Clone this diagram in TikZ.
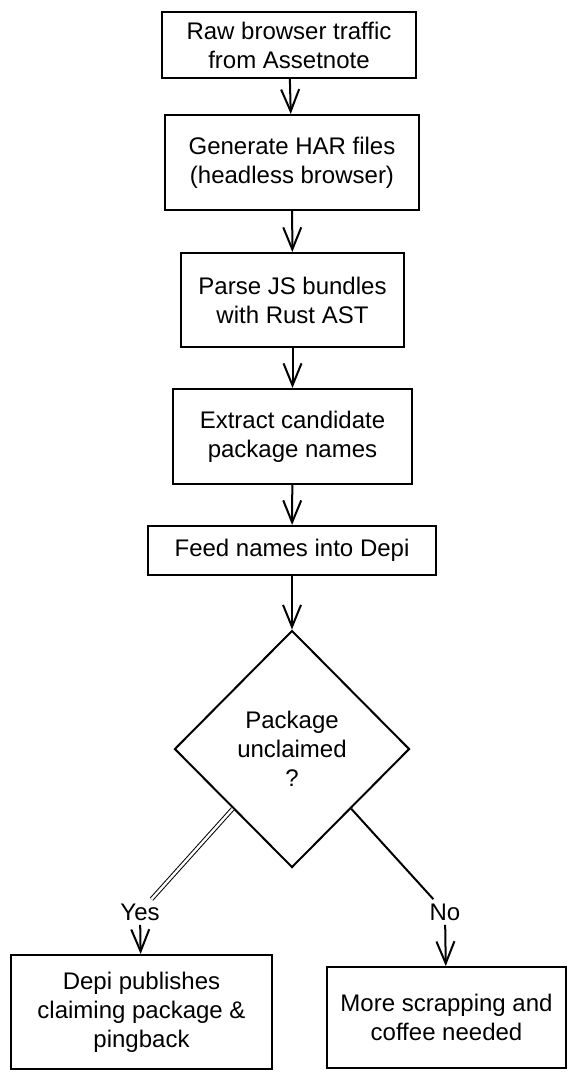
\documentclass[tikz,border=0pt]{standalone}
\usepackage{fontspec}
\setmainfont{Liberation Sans}
\usetikzlibrary{positioning,arrows.meta,shapes.geometric}

\begin{document}
\begin{tikzpicture}[x=0.5pt,y=-0.5pt,
    box/.style={draw,line width=1pt,align=center,inner sep=2pt,
      font=\fontsize{12}{14.5}\selectfont},
    flow/.style={line width=1pt,-{Straight Barb[length=11pt,width=9pt,line width=1pt]}},
    lbl/.style={inner sep=2pt,font=\fontsize{12}{14}\selectfont}]
  \useasboundingbox (0,0) rectangle (573,1080);

  \node[box,minimum width=127pt,minimum height=33pt] (raw) at (289,45)
    {Raw browser traffic\\from Assetnote};
  \node[box,minimum width=127pt,minimum height=47.5pt] (har) at (292,162.5)
    {Generate HAR files\\(headless browser)};
  \node[box,minimum width=111.5pt,minimum height=47pt] (parse) at (292.5,300)
    {Parse JS bundles\\with Rust AST};
  \node[box,minimum width=119.5pt,minimum height=47.5pt] (extract) at (292.5,436.5)
    {Extract candidate\\package names};
  \node[box,minimum width=144pt,minimum height=24.5pt] (feed) at (292,550.5)
    {Feed names into Depi};
  \node[box,diamond,inner sep=0pt,minimum width=117.5pt,minimum height=118.5pt] (claim) at (292,749)
    {Package\\unclaimed\\?};
  \node[lbl] (yes) at (140,912) {Yes};
  \node[lbl] (no) at (445,912) {No};
  \node[box,minimum width=130.5pt,minimum height=57pt] (publish) at (141.5,1012)
    {Depi publishes\\claiming package \&\\pingback};
  \node[box,minimum width=119.5pt,minimum height=50.5pt] (scrap) at (446.5,1017.5)
    {More scrapping and\\coffee needed};

  \draw[flow] (raw) -- (har);
  \draw[flow] (har) -- (parse);
  \draw[flow] (parse) -- (extract);
  \draw[flow] (extract) -- (feed);
  \draw[flow] (feed) -- (claim);
  \draw[line width=0.5pt,double distance=1.2pt] (claim.south west) -- (yes);
  \draw[flow] (yes) -- (publish);
  \draw[line width=1pt] (claim.south east) -- (no);
  \draw[flow] (no) -- (scrap);
\end{tikzpicture}
\end{document}
